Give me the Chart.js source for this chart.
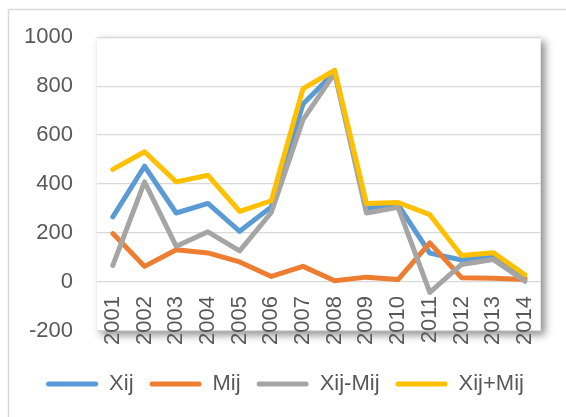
<!DOCTYPE html>
<html>
<head>
<meta charset="utf-8">
<script src="https://cdn.jsdelivr.net/npm/chart.js@4/dist/chart.umd.min.js"></script>
<style>
  body { margin: 0; background: #fff; }
  canvas { display: block; }
</style>
</head>
<body>
<canvas id="Chart" width="566" height="417"></canvas>
<script>
const years = ["2001", "2002", "2003", "2004", "2005", "2006", "2007",
  "2008", "2009", "2010", "2011", "2012", "2013", "2014"];
const xij = [266, 473, 282, 321, 207, 307, 727, 858, 302, 315, 118, 90, 102, 15];
const mij = [198, 64, 132, 119, 82, 23, 64, 5, 20, 10, 160, 18, 15, 10];
const xijMinusMij = [68, 409, 146, 205, 127, 284, 663, 853, 282, 305, -42, 72, 92, 3];
const xijPlusMij = [460, 532, 409, 436, 289, 332, 790, 865, 321, 325, 275, 108, 120, 30];
const yTicks = [-200, 0, 200, 400, 600, 800, 1000];

const textColor = "#595959";
const font = { family: "'Liberation Sans', Arial, sans-serif", size: 22 };

// outer frame + plot area box with its shadow
const backdrop = {
  id: "backdrop",
  beforeDraw(chart) {
    const ctx = chart.ctx;
    const a = chart.chartArea;
    ctx.save();
    ctx.strokeStyle = "#d9d9d9";
    ctx.lineWidth = 1.5;
    ctx.beginPath();
    ctx.moveTo(8.5, 417);
    ctx.lineTo(8.5, 9.5);
    ctx.lineTo(566, 9.5);
    ctx.stroke();

    ctx.shadowColor = "rgba(0,0,0,0.45)";
    ctx.shadowBlur = 8;
    ctx.shadowOffsetX = 4;
    ctx.shadowOffsetY = 4;
    ctx.fillStyle = "#fff";
    ctx.fillRect(a.left, a.top, a.right - a.left, a.bottom - a.top);
    ctx.restore();
  },
};

function series(label, data, color, order) {
  return {
    label: label,
    data: data,
    borderColor: color,
    backgroundColor: color,
    borderWidth: 5,
    pointRadius: 0,
    tension: 0,
    borderJoinStyle: "round",
    borderCapStyle: "round",
    order: order,
  };
}

new Chart(document.querySelector("#Chart"), {
  type: "line",
  data: {
    labels: years,
    datasets: [
      series("Xij", xij, "#5B9BD5", 4),
      series("Mij", mij, "#ED7D31", 3),
      series("Xij-Mij", xijMinusMij, "#A5A5A5", 2),
      series("Xij+Mij", xijPlusMij, "#FFC000", 1),
    ],
  },
  options: {
    responsive: false,
    animation: false,
    layout: { padding: { left: 24, right: 20, top: 37, bottom: 12 } },
    scales: {
      x: {
        type: "category",
        offset: true,
        position: { y: 0 },
        grid: { display: false, drawTicks: false },
        border: { display: false },
        ticks: {
          color: textColor,
          font: font,
          minRotation: 90,
          maxRotation: 90,
          autoSkip: false,
          padding: 14,
        },
      },
      y: {
        min: -200,
        max: 1000,
        afterBuildTicks(scale) {
          scale.ticks = yTicks.map((v) => ({ value: v }));
        },
        afterFit(scale) {
          scale.width = 73;
        },
        grid: { color: "#d9d9d9", lineWidth: 1.3, drawTicks: false },
        border: { display: false },
        ticks: {
          color: textColor,
          font: font,
          padding: 24,
          callback: (v) => String(v),
        },
      },
    },
    plugins: {
      legend: {
        position: "bottom",
        title: { display: true, text: "", font: { size: 10, lineHeight: 1 }, padding: { top: 16, bottom: 0 } },
        labels: {
          color: textColor,
          font: font,
          boxWidth: 52,
          boxHeight: 5,
          padding: 16,
          sort: (a, b) => a.datasetIndex - b.datasetIndex,
          generateLabels(chart) {
            return Chart.defaults.plugins.legend.labels.generateLabels(chart).map((it) => ({
              ...it,
              fillStyle: it.strokeStyle,
              lineWidth: 0,
              borderRadius: 2.5,
            }));
          },
        },
      },
      tooltip: { enabled: false },
    },
  },
  plugins: [backdrop],
});
</script>
</body>
</html>
